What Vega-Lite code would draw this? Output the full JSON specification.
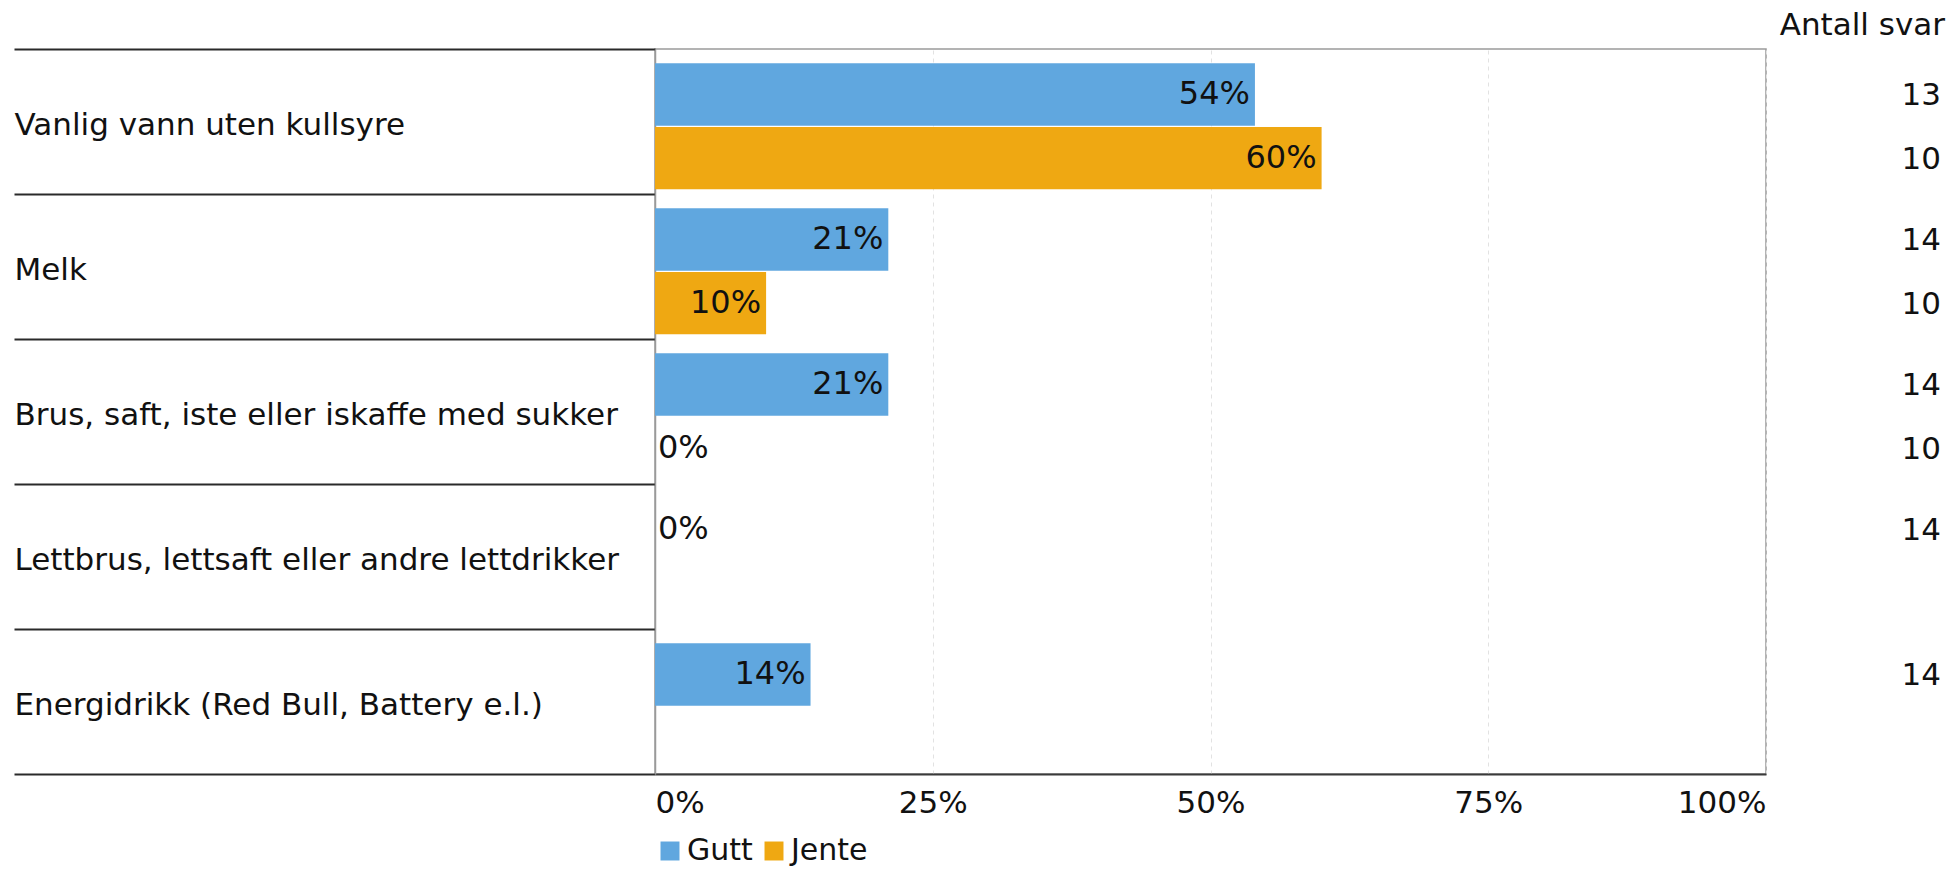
{
  "$schema": "https://vega.github.io/schema/vega-lite/v6.json",
  "background": "white",
  "padding": {"left": 12, "top": 10, "right": 4, "bottom": 0},
  "config": {"font": "DejaVu Sans", "view": {"stroke": null}, "text": {"font": "DejaVu Sans"}},
  "title": {"text": "Antall svar", "anchor": "end", "frame": "bounds", "fontSize": 31, "fontWeight": "normal", "color": "#111111", "offset": -10, "dx": -2},
  "datasets": {
    "d": [
      {"category": "Vanlig vann uten kullsyre", "sex": "Gutt", "value": 0.54, "n": 13},
      {"category": "Vanlig vann uten kullsyre", "sex": "Jente", "value": 0.60, "n": 10},
      {"category": "Melk", "sex": "Gutt", "value": 0.21, "n": 14},
      {"category": "Melk", "sex": "Jente", "value": 0.10, "n": 10},
      {"category": "Brus, saft, iste eller iskaffe med sukker", "sex": "Gutt", "value": 0.21, "n": 14},
      {"category": "Brus, saft, iste eller iskaffe med sukker", "sex": "Jente", "value": 0, "n": 10},
      {"category": "Lettbrus, lettsaft eller andre lettdrikker", "sex": "Gutt", "value": 0, "n": 14},
      {"category": "Energidrikk (Red Bull, Battery e.l.)", "sex": "Gutt", "value": 0.14, "n": 14}
    ]
  },
  "spacing": 134,
  "resolve": {"legend": {"color": "independent"}},
  "hconcat": [
    {
      "width": 1111,
      "height": 725,
      "view": {"stroke": "#9a9a9a", "strokeWidth": 1.5},
      "data": {"name": "d"},
      "encoding": {
        "y": {
          "field": "category", "type": "nominal",
          "sort": ["Vanlig vann uten kullsyre", "Melk", "Brus, saft, iste eller iskaffe med sukker", "Lettbrus, lettsaft eller andre lettdrikker", "Energidrikk (Red Bull, Battery e.l.)"],
          "scale": {"paddingInner": 0, "paddingOuter": 0},
          "axis": {"title": null, "tickBand": "extent", "tickSize": 641, "tickColor": "#2a2a2a", "tickWidth": 2.2, "labelAlign": "left", "labelPadding": 0, "labelOffset": 4, "labelFontSize": 31, "labelColor": "#111111", "labelLimit": 640, "domainColor": "#9a9a9a", "domainWidth": 1.5}
        },
        "yOffset": {"field": "sex", "type": "nominal", "scale": {"domain": ["Gutt", "Jente"], "paddingInner": 0.02, "paddingOuter": 0.15, "align": 0.75}}
      },
      "layer": [
        {
          "mark": {"type": "bar"},
          "encoding": {
            "x": {"field": "value", "type": "quantitative", "scale": {"domain": [0, 1], "nice": false},
              "axis": {"title": null, "format": ".0%", "values": [0, 0.25, 0.5, 0.75, 1], "labelFlush": true, "labelFontSize": 31, "labelColor": "#111111", "labelPadding": 14, "ticks": false, "grid": true, "gridColor": "#e2e2e2", "gridDash": [4, 4], "domainColor": "#3a3a3a", "domainWidth": 2.2}},
            "color": {"field": "sex", "type": "nominal", "scale": {"domain": ["Gutt", "Jente"], "range": ["#60A7DF", "#EFA812"]},
              "legend": {"title": null, "orient": "bottom", "direction": "horizontal", "symbolType": "square", "symbolSize": 360, "symbolStrokeWidth": 0, "labelFontSize": 30, "labelColor": "#111111", "columnPadding": 6, "labelOffset": 2, "offset": 18}}
          }
        },
        {
          "transform": [{"filter": "datum.value > 0"}],
          "mark": {"type": "text", "align": "right", "baseline": "middle", "dx": -5, "fontSize": 32, "color": "#111111"},
          "encoding": {
            "x": {"field": "value", "type": "quantitative"},
            "text": {"field": "value", "type": "quantitative", "format": ".0%"}
          }
        },
        {
          "transform": [{"filter": "datum.value == 0"}],
          "mark": {"type": "text", "align": "left", "baseline": "middle", "dx": 3, "fontSize": 32, "color": "#111111"},
          "encoding": {
            "x": {"field": "value", "type": "quantitative"},
            "text": {"field": "value", "type": "quantitative", "format": ".0%"}
          }
        }
      ]
    },
    {
      "width": 12,
      "height": 725,
      "data": {"name": "d"},
      "mark": {"type": "text", "align": "right", "baseline": "middle", "fontSize": 31, "color": "#111111", "dy": 2},
      "encoding": {
        "y": {
          "field": "category", "type": "nominal",
          "sort": ["Vanlig vann uten kullsyre", "Melk", "Brus, saft, iste eller iskaffe med sukker", "Lettbrus, lettsaft eller andre lettdrikker", "Energidrikk (Red Bull, Battery e.l.)"],
          "scale": {"paddingInner": 0, "paddingOuter": 0},
          "axis": null
        },
        "yOffset": {"field": "sex", "type": "nominal", "scale": {"domain": ["Gutt", "Jente"], "paddingInner": 0.02, "paddingOuter": 0.15, "align": 0.75}},
        "text": {"field": "n", "type": "quantitative"}
      }
    }
  ]
}
